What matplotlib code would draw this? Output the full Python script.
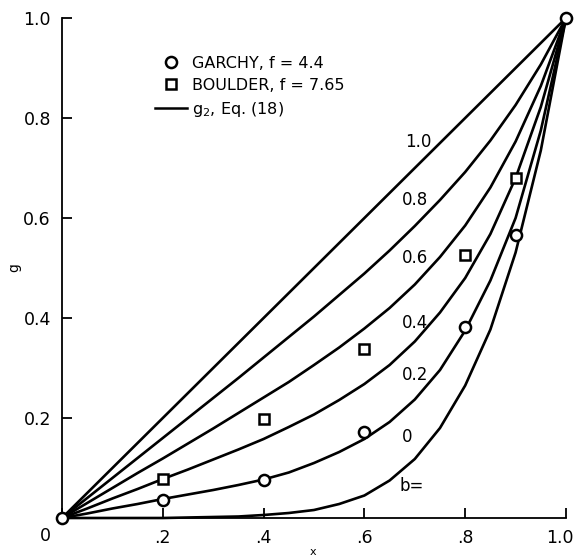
import matplotlib
matplotlib.use("Agg")
import matplotlib.pyplot as plt
from matplotlib.lines import Line2D
from matplotlib.transforms import ScaledTranslation

# Common x grid for the g2 curves
x_grid = [0.00, 0.05, 0.10, 0.15, 0.20, 0.25, 0.30, 0.35, 0.40, 0.45, 0.50,
          0.55, 0.60, 0.65, 0.70, 0.75, 0.80, 0.85, 0.90, 0.95, 1.00]

# g2 from Eq. (18), one curve per value of b
g2_b10 = [0.000, 0.050, 0.100, 0.150, 0.200, 0.250, 0.300, 0.350, 0.400, 0.450, 0.500,
          0.550, 0.600, 0.650, 0.700, 0.750, 0.800, 0.850, 0.900, 0.950, 1.000]
g2_b08 = [0.000, 0.040, 0.080, 0.120, 0.160, 0.200, 0.240, 0.280, 0.321, 0.362, 0.403,
          0.446, 0.489, 0.535, 0.584, 0.636, 0.692, 0.755, 0.826, 0.907, 1.000]
g2_b06 = [0.000, 0.030, 0.060, 0.090, 0.119, 0.149, 0.179, 0.210, 0.241, 0.272, 0.306,
          0.341, 0.379, 0.420, 0.467, 0.522, 0.585, 0.661, 0.753, 0.864, 1.000]
g2_b04 = [0.000, 0.019, 0.039, 0.058, 0.078, 0.097, 0.117, 0.137, 0.158, 0.182, 0.207,
          0.236, 0.268, 0.306, 0.353, 0.411, 0.480, 0.568, 0.680, 0.822, 1.000]
g2_b02 = [0.000, 0.009, 0.019, 0.028, 0.038, 0.047, 0.056, 0.066, 0.077, 0.091, 0.110,
          0.132, 0.158, 0.192, 0.237, 0.296, 0.375, 0.475, 0.600, 0.775, 1.000]
g2_b00 = [0.000, 0.000, 0.000, 0.000, 0.000, 0.001, 0.002, 0.003, 0.006, 0.010, 0.016,
          0.028, 0.045, 0.075, 0.118, 0.180, 0.265, 0.377, 0.531, 0.735, 1.000]

curves = [g2_b10, g2_b08, g2_b06, g2_b04, g2_b02, g2_b00]
b_labels = ["1.0", "0.8", "0.6", "0.4", "0.2", "0"]
b_label_pos = [(0.706, 0.752), (0.700, 0.636), (0.700, 0.520),
               (0.700, 0.390), (0.700, 0.286), (0.685, 0.162)]

# Measured data
garchy_x = [0.0, 0.2, 0.4, 0.6, 0.8, 0.9, 1.0]
garchy_g = [0.0, 0.037, 0.076, 0.172, 0.382, 0.567, 1.0]
boulder_x = [0.2, 0.4, 0.6, 0.8, 0.9]
boulder_g = [0.078, 0.198, 0.338, 0.527, 0.681]

x_ticks = [0.0, 0.2, 0.4, 0.6, 0.8, 1.0]
x_ticklabels = ["", ".2", ".4", ".6", ".8", "1.0"]
y_ticks = [0.0, 0.2, 0.4, 0.6, 0.8, 1.0]
y_ticklabels = ["", "0.2", "0.4", "0.6", "0.8", "1.0"]

fig = plt.figure(figsize=(5.76, 5.60), dpi=100)
ax = fig.add_axes([62 / 576, 42 / 560, 504 / 576, 500 / 560])

for g in curves:
    ax.plot(x_grid, g, color="black", lw=1.9, solid_capstyle="round", clip_on=False)

for lab, (lx, ly) in zip(b_labels, b_label_pos):
    ax.text(lx, ly, lab, fontsize=12, ha="center", va="center")
ax.text(0.694, 0.064, "b=", fontsize=12, ha="center", va="center")

ax.plot(garchy_x, garchy_g, ls="none", marker="o", ms=8, mfc="white",
        mec="black", mew=1.8, clip_on=False, zorder=5)
ax.plot(boulder_x, boulder_g, ls="none", marker="s", ms=7.5, mfc="white",
        mec="black", mew=1.8, clip_on=False, zorder=5)

ax.set_xlim(0, 1)
ax.set_ylim(0, 1)
ax.spines["top"].set_visible(False)
ax.spines["right"].set_visible(False)
for s in ("left", "bottom"):
    ax.spines[s].set_linewidth(1.3)

ax.set_xticks(x_ticks)
ax.set_xticklabels(x_ticklabels)
ax.set_yticks(y_ticks)
ax.set_yticklabels(y_ticklabels)
ax.tick_params(direction="in", length=7, width=1.3, labelsize=12.5, pad=8)

# keep the last x tick label inside the figure
last = ax.get_xticklabels()[-1]
last.set_transform(last.get_transform() + ScaledTranslation(-6 / 100, 0, fig.dpi_scale_trans))

# shared origin label
ax.annotate("0", xy=(0, 0), xytext=(-17, -18), textcoords="offset pixels",
            fontsize=12.5, ha="center", va="center", annotation_clip=False)

ax.set_xlabel("x", fontsize=8, va="center")
ax.xaxis.set_label_coords(0.497, -0.068)
ax.set_ylabel("g", fontsize=10, rotation=90, va="center")
ax.yaxis.set_label_coords(-0.095, 0.5)

handles = [
    Line2D([], [], ls="none", marker="o", ms=8, mfc="white", mec="black", mew=1.8),
    Line2D([], [], ls="none", marker="s", ms=7.5, mfc="white", mec="black", mew=1.8),
    Line2D([], [], color="black", lw=1.8),
]
labels = ["GARCHY, f = 4.4", "BOULDER, f = 7.65", "g$_2$, Eq. (18)"]
ax.legend(handles, labels, loc="upper left", bbox_to_anchor=(0.185, 0.925),
          frameon=False, fontsize=11.5, handlelength=2.0, handletextpad=0.3,
          labelspacing=0.45, borderpad=0, borderaxespad=0)

fig.savefig("out.png", dpi=100, facecolor="white")
